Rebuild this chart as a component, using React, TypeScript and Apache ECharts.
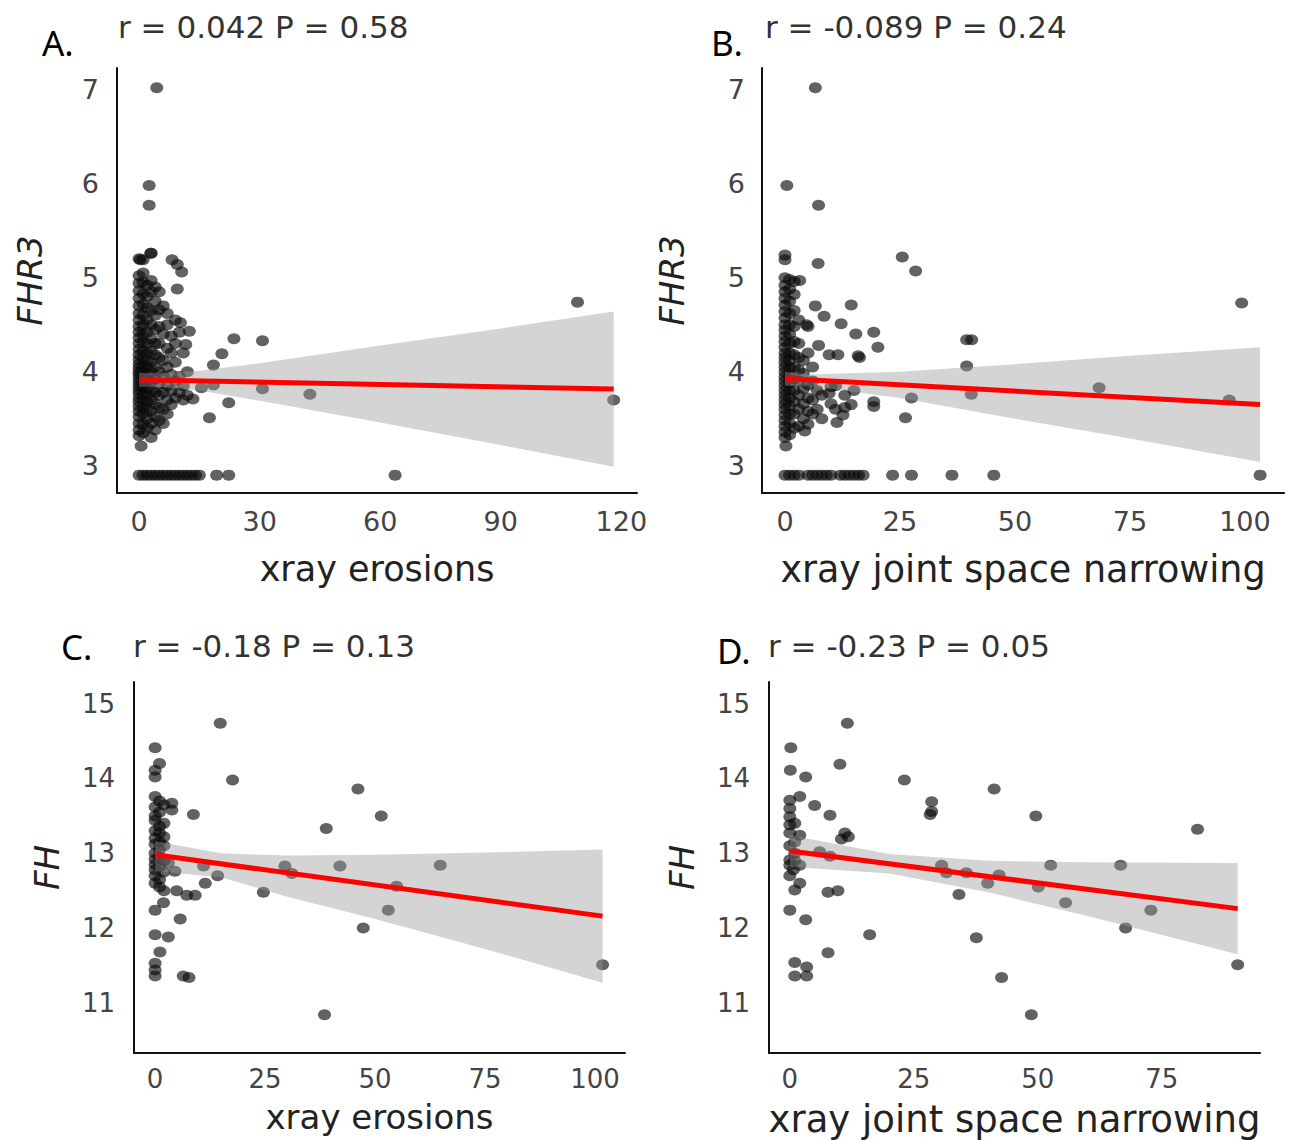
import React, { useEffect, useRef } from "react";
import * as echarts from "echarts";

// ---------- Panel A: FHR3 vs xray erosions ----------
const aIsolated: number[][] = [
  [4.4, 7.02], [2.5, 5.98], [2.5, 5.77], [0.3, 5.19], [2.9, 5.26], [8.2, 5.19], [9.5, 5.14], [10.6, 5.06],
  [9.5, 4.88], [10.3, 4.52], [12.5, 4.43], [11.6, 4.29], [23.6, 4.35], [30.7, 4.33], [20.6, 4.19], [18.5, 4.07],
  [109.1, 4.74], [118.1, 3.7], [42.5, 3.76], [30.7, 3.82], [22.3, 3.67], [17.5, 3.51], [13.4, 3.71], [0.5, 3.21],
  [63.7, 2.9], [15.5, 3.83], [18.5, 3.86],
  [0, 2.9], [1, 2.9], [2, 2.9], [3, 2.9], [4, 2.9], [5, 2.9], [6, 2.9], [7, 2.9], [8, 2.9], [9, 2.9],
  [10, 2.9], [11, 2.9], [12, 2.9], [13, 2.9], [14, 2.9], [15, 2.9], [19.3, 2.9], [22.3, 2.9],
];
const aColumnX = [0, 1, 2, 3, 4, 5, 6, 7, 8, 9, 10, 11, 12];
const aColumnY: number[][] = [
  [3.32, 3.38, 3.45, 3.52, 3.58, 3.63, 3.68, 3.72, 3.77, 3.81, 3.85, 3.89, 3.93, 3.97, 4.0, 4.04, 4.08, 4.13, 4.18, 4.24, 4.3, 4.36, 4.42, 4.48, 4.55, 4.62, 4.7, 4.78, 4.86, 4.94, 5.02, 5.2],
  [3.35, 3.44, 3.55, 3.62, 3.7, 3.76, 3.83, 3.88, 3.95, 4.01, 4.07, 4.14, 4.22, 4.31, 4.4, 4.5, 4.6, 4.72, 4.83, 4.95, 5.05, 5.19],
  [3.4, 3.5, 3.6, 3.68, 3.75, 3.82, 3.9, 3.98, 4.05, 4.12, 4.2, 4.3, 4.42, 4.55, 4.68, 4.8, 4.92],
  [3.3, 3.45, 3.58, 3.7, 3.8, 3.9, 4.0, 4.1, 4.22, 4.35, 4.5, 4.65, 4.85, 4.97, 5.26],
  [3.38, 3.52, 3.66, 3.78, 3.92, 4.05, 4.18, 4.3, 4.45, 4.6, 4.75, 4.9],
  [3.48, 3.62, 3.75, 3.87, 4.0, 4.15, 4.3, 4.48, 4.66, 4.85],
  [3.45, 3.6, 3.78, 3.95, 4.12, 4.4, 4.7],
  [3.55, 3.7, 3.85, 4.05, 4.25, 4.5, 4.62],
  [3.65, 3.8, 3.97, 4.2, 4.38],
  [3.72, 3.9, 4.1, 4.3, 4.55],
  [3.78, 3.95, 4.42],
  [3.7, 3.85, 4.2],
  [3.75, 4.0],
];
const aLine = [[0, 3.915], [118.1, 3.816]];
const aBandX = [0, 5, 15, 30, 60, 90, 118.1];
const aBandUpper = [3.99, 3.98, 4.01, 4.09, 4.28, 4.46, 4.64];
const aBandLower = [3.84, 3.84, 3.8, 3.69, 3.46, 3.22, 2.99];
const aXTicks = [0, 30, 60, 90, 120];

// ---------- Panel B: FHR3 vs xray joint space narrowing ----------
const bIsolated: number[][] = [
  [6.6, 7.02], [0.4, 5.98], [7.3, 5.77], [0, 5.24], [0, 5.19], [7.2, 5.15], [25.5, 5.22], [28.4, 5.07],
  [3.2, 4.97], [6.6, 4.7], [8.5, 4.59], [14.4, 4.71], [4.7, 4.5], [12.2, 4.51], [15.4, 4.4], [19.3, 4.42],
  [20.2, 4.26], [7.3, 4.28], [9.6, 4.18], [11.5, 4.18], [15.9, 4.17], [16.2, 4.15], [39.5, 4.34], [40.6, 4.34],
  [39.5, 4.06], [40.5, 3.76], [68.3, 3.83], [99.3, 4.73], [96.6, 3.7], [103.3, 2.9], [27.5, 3.72], [26.2, 3.51],
  [19.3, 3.68], [19.3, 3.63], [14.4, 3.65], [12.6, 3.54], [11.3, 3.46], [9.6, 3.77], [0.2, 3.21], [4.3, 3.37],
  [0, 2.9], [1, 2.9], [2, 2.9], [3, 2.9], [5, 2.9], [6, 2.9], [7, 2.9], [8, 2.9], [9, 2.9], [10, 2.9],
  [12, 2.9], [13, 2.9], [14, 2.9], [15, 2.9], [16, 2.9], [17, 2.9], [23.4, 2.9], [27.5, 2.9], [36.3, 2.9], [45.4, 2.9],
];
const bColumnX = [0, 1, 2, 3, 4, 5, 6, 7, 8, 10, 11, 13, 15];
const bColumnY: number[][] = [
  [3.3, 3.36, 3.42, 3.48, 3.54, 3.6, 3.65, 3.7, 3.75, 3.8, 3.85, 3.9, 3.95, 4.0, 4.05, 4.1, 4.15, 4.2, 4.26, 4.32, 4.38, 4.44, 4.5, 4.57, 4.64, 4.71, 4.78, 4.85, 4.92, 5.0],
  [3.33, 3.45, 3.55, 3.64, 3.72, 3.8, 3.88, 3.96, 4.04, 4.12, 4.2, 4.3, 4.4, 4.5, 4.62, 4.75, 4.88, 4.98],
  [3.4, 3.55, 3.68, 3.8, 3.92, 4.05, 4.18, 4.32, 4.48, 4.65, 4.82, 4.96],
  [3.42, 3.6, 3.75, 3.9, 4.02, 4.15, 4.3, 4.55],
  [3.5, 3.66, 3.82, 3.98, 4.12],
  [3.44, 3.58, 3.72, 3.86, 4.2, 4.48],
  [3.55, 3.7, 3.9, 4.05],
  [3.6, 3.8],
  [3.5, 3.75],
  [3.66, 3.84],
  [3.6, 3.85],
  [3.75, 3.62],
  [3.8],
];
const bLine = [[0, 3.927], [103.3, 3.65]];
const bBandX = [0, 5, 25, 50, 75, 103.3];
const bBandUpper = [4.0, 3.97, 4.0, 4.08, 4.17, 4.26];
const bBandLower = [3.85, 3.85, 3.72, 3.5, 3.29, 3.04];
const bXTicks = [0, 25, 50, 75, 100];

const fhr3YTicks = [3, 4, 5, 6, 7];

// ---------- Panel C: FH vs xray erosions ----------
const cIsolated: number[][] = [
  [14.8, 14.74], [17.6, 13.98], [46.1, 13.86], [51.4, 13.5], [38.9, 13.33], [8.7, 13.52], [3.8, 13.67], [3.8, 13.58],
  [3.0, 12.87], [4.5, 12.76], [11, 12.83], [14.2, 12.7], [29.5, 12.83], [31.1, 12.73], [42, 12.83], [64.8, 12.84],
  [54.9, 12.56], [53, 12.24], [47.3, 12.0], [24.6, 12.48], [11.4, 12.6], [4.9, 12.5], [7.2, 12.44], [9.1, 12.44],
  [1.9, 12.34], [5.7, 12.12], [3.0, 11.88], [1.1, 11.68], [6.4, 11.36], [7.7, 11.34], [38.5, 10.84], [101.7, 11.51],
];
const cColumnX = [0, 1, 2];
const cColumnY: number[][] = [
  [14.41, 14.11, 14.02, 13.76, 13.62, 13.5, 13.44, 13.3, 13.2, 13.12, 13.0, 12.92, 12.85, 12.78, 12.7, 12.6, 12.24, 11.91, 11.53, 11.44, 11.36],
  [14.2, 13.7, 13.55, 13.36, 13.27, 13.15, 13.05, 12.95, 12.82, 12.65, 12.55],
  [13.65, 13.4, 13.22, 13.1, 12.9, 12.75, 12.5],
];
const cLine = [[0, 12.98], [101.7, 12.16]];
const cBandX = [0, 15, 30, 50, 75, 101.7];
const cBandUpper = [13.16, 13.0, 12.97, 12.98, 13.01, 13.05];
const cBandLower = [12.76, 12.68, 12.42, 12.12, 11.72, 11.27];
const cXTicks = [0, 25, 50, 75, 100];

// ---------- Panel D: FH vs xray joint space narrowing ----------
const dIsolated: number[][] = [
  [11.6, 14.74], [0.2, 14.41], [10.1, 14.19], [0.1, 14.11], [3.2, 14.02], [23.1, 13.98], [41.2, 13.86], [28.6, 13.69],
  [28.6, 13.56], [28.3, 13.52], [49.6, 13.5], [82.2, 13.32], [8.1, 13.51], [0, 13.71], [2, 13.76], [5, 13.64],
  [0, 13.49], [0, 13.27], [2, 13.24], [11.1, 13.27], [11.8, 13.22], [10.4, 13.19], [6, 13.02], [8.1, 12.96],
  [0, 12.91], [0.7, 12.78], [2, 12.84], [30.6, 12.84], [31.6, 12.74], [35.6, 12.74], [42.2, 12.71], [39.9, 12.6],
  [52.6, 12.84], [66.7, 12.84], [50.1, 12.55], [34.1, 12.45], [55.6, 12.34], [72.8, 12.24], [67.7, 12.0], [37.6, 11.87],
  [42.7, 11.34], [48.7, 10.84], [90.3, 11.51], [2, 12.6], [1, 12.51], [7.7, 12.48], [9.7, 12.5], [0, 12.24],
  [3.2, 12.11], [16.1, 11.91], [7.7, 11.67], [1, 11.54], [3.4, 11.48], [1, 11.36], [3.4, 11.36],
];
const dColumnX = [0, 1];
const dColumnY: number[][] = [
  [13.6, 13.38, 13.1, 12.7, 12.84],
  [13.4, 13.15, 13.0, 12.9],
];
const dLine = [[0, 13.03], [90.3, 12.26]];
const dBandX = [0, 20, 40, 60, 90.3];
const dBandUpper = [13.24, 12.99, 12.9, 12.88, 12.87];
const dBandLower = [12.82, 12.73, 12.48, 12.16, 11.65];
const dXTicks = [0, 25, 50, 75];

const fhYTicks = [11, 12, 13, 14, 15];

const titles = ["r = 0.042 P = 0.58", "r = -0.089 P = 0.24", "r = -0.18 P = 0.13", "r = -0.23 P = 0.05"];
const letters = ["A.", "B.", "C.", "D."];
const xNames = ["xray erosions", "xray joint space narrowing", "xray erosions", "xray joint space narrowing"];
const yNames = ["FHR3", "FHR3", "FH", "FH"];

function buildPoints(isolated: number[][], colX: number[], colY: number[][]) {
  const pts: number[][] = isolated.slice();
  colX.forEach((x, i) => colY[i].forEach((y) => pts.push([x, y])));
  return pts;
}

const TEXT_FONT = "'DejaVu Sans', sans-serif";

const panels = [
  {
    points: buildPoints(aIsolated, aColumnX, aColumnY), line: aLine, bandX: aBandX, bandUpper: aBandUpper, bandLower: aBandLower,
    xTicks: aXTicks, yTicks: fhr3YTicks, xMin: -5.5, xMax: 123.9, yMin: 2.71, yMax: 7.23,
    grid: { left: 117, top: 68, width: 520, height: 425 },
    xNameGap: 58, xNameSize: 35, yNameGap: 70, yLabelMargin: 18, xLabelMargin: 15, tickSize: 27,
    letterPos: [42, 42], titlePos: [118, 27],
  },
  {
    points: buildPoints(bIsolated, bColumnX, bColumnY), line: bLine, bandX: bBandX, bandUpper: bBandUpper, bandLower: bBandLower,
    xTicks: bXTicks, yTicks: fhr3YTicks, xMin: -5, xMax: 108.5, yMin: 2.71, yMax: 7.23,
    grid: { left: 762, top: 68, width: 522, height: 425 },
    xNameGap: 58, xNameSize: 36.5, yNameGap: 73, yLabelMargin: 17, xLabelMargin: 15, tickSize: 27,
    letterPos: [711, 42], titlePos: [765, 27],
  },
  {
    points: buildPoints(cIsolated, cColumnX, cColumnY), line: cLine, bandX: cBandX, bandUpper: cBandUpper, bandLower: cBandLower,
    xTicks: cXTicks, yTicks: fhYTicks, xMin: -4.8, xMax: 106.8, yMin: 10.33, yMax: 15.29,
    grid: { left: 134, top: 682, width: 491, height: 371 },
    xNameGap: 47, xNameSize: 34, yNameGap: 70, yLabelMargin: 19, xLabelMargin: 13, tickSize: 26,
    letterPos: [61, 646], titlePos: [133, 646],
  },
  {
    points: buildPoints(dIsolated, dColumnX, dColumnY), line: dLine, bandX: dBandX, bandUpper: dBandUpper, bandLower: dBandLower,
    xTicks: dXTicks, yTicks: fhYTicks, xMin: -4.2, xMax: 94.8, yMin: 10.33, yMax: 15.29,
    grid: { left: 769, top: 682, width: 491, height: 371 },
    xNameGap: 48, xNameSize: 37, yNameGap: 70, yLabelMargin: 19, xLabelMargin: 13, tickSize: 26,
    letterPos: [717, 650], titlePos: [768, 646],
  },
];

export default function App() {
  const ref = useRef<HTMLDivElement>(null);
  useEffect(() => {
    if (!ref.current) return;
    const chart = echarts.init(ref.current, null, { renderer: "svg" });
    const axisLineStyle = { color: "#111", width: 2 };
    const option: any = {
      animation: false,
      backgroundColor: "#fff",
      grid: panels.map((p) => ({ ...p.grid, containLabel: false })),
      xAxis: panels.map((p, i) => ({
        type: "value", gridIndex: i, min: p.xMin, max: p.xMax,
        axisLine: { show: true, onZero: false, lineStyle: axisLineStyle },
        axisTick: { show: false },
        splitLine: { show: false },
        axisLabel: { customValues: p.xTicks, fontSize: p.tickSize, fontFamily: TEXT_FONT, color: "#444", margin: p.xLabelMargin },
        name: xNames[i], nameLocation: "middle", nameGap: p.xNameGap,
        nameTextStyle: { fontSize: p.xNameSize, fontFamily: TEXT_FONT, color: "#222" },
      })),
      yAxis: panels.map((p, i) => ({
        type: "value", gridIndex: i, min: p.yMin, max: p.yMax,
        axisLine: { show: true, onZero: false, lineStyle: axisLineStyle },
        axisTick: { show: false },
        splitLine: { show: false },
        axisLabel: { customValues: p.yTicks, fontSize: p.tickSize, fontFamily: TEXT_FONT, color: "#444", margin: p.yLabelMargin },
        name: yNames[i], nameLocation: "middle", nameGap: p.yNameGap,
        nameTextStyle: { fontSize: 34, fontFamily: TEXT_FONT, fontStyle: "italic", color: "#222" },
      })),
      series: panels.flatMap((p, i) => [
        {
          type: "scatter", xAxisIndex: i, yAxisIndex: i, data: p.points, symbolSize: [13, 11], z: 2,
          itemStyle: { color: "rgba(10,10,10,0.8)" }, silent: true,
        },
        {
          type: "custom", xAxisIndex: i, yAxisIndex: i, z: 3, silent: true,
          data: [[p.bandX[0], p.bandUpper[0]]],
          renderItem: (_params: any, api: any) => {
            const top = p.bandX.map((x, j) => api.coord([x, p.bandUpper[j]]));
            const bot = p.bandX.map((x, j) => api.coord([x, p.bandLower[j]])).reverse();
            return { type: "polygon", shape: { points: top.concat(bot) }, style: { fill: "rgba(153,153,153,0.42)" } };
          },
        },
        {
          type: "line", xAxisIndex: i, yAxisIndex: i, data: p.line, showSymbol: false, z: 4, silent: true,
          lineStyle: { color: "#ff0000", width: 5 },
        },
      ]),
      graphic: panels.flatMap((p, i) => [
        {
          type: "text", x: p.letterPos[0], y: p.letterPos[1],
          style: { text: letters[i], fontSize: 35, fontFamily: "'Noto Sans', sans-serif", fill: "#000", verticalAlign: "middle", align: "left" },
        },
        {
          type: "text", x: p.titlePos[0], y: p.titlePos[1],
          style: { text: titles[i], fontSize: 31, fontFamily: TEXT_FONT, fill: "#333", verticalAlign: "middle", align: "left" },
        },
      ]),
    };
    chart.setOption(option);
    return () => chart.dispose();
  }, []);
  return (
    <div
      ref={ref}
      style={{ position: "absolute", left: 0, top: 0, width: 1309, height: 1140, background: "#fff" }}
    />
  );
}
